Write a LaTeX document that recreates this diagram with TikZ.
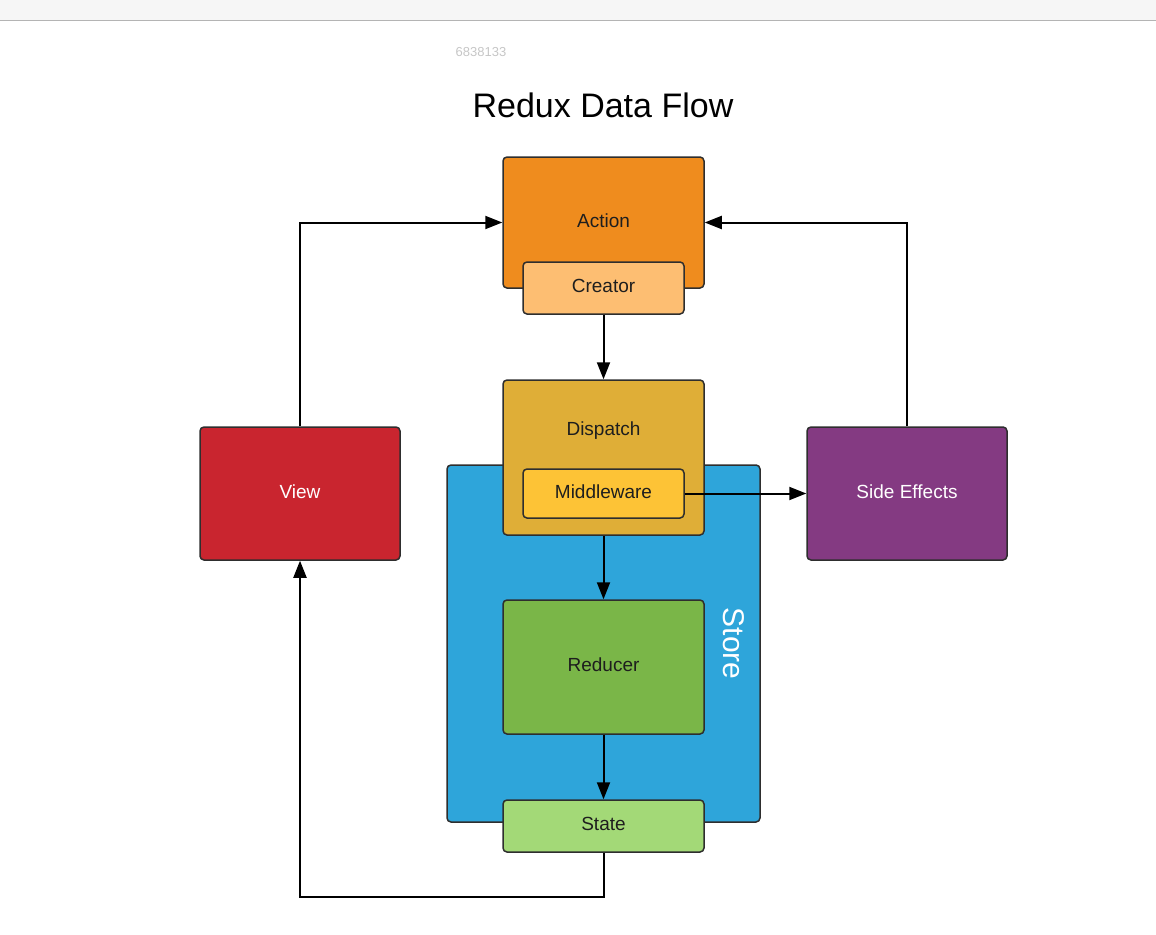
\documentclass[tikz,border=0pt]{standalone}
\usepackage{fontspec}
\setmainfont{Liberation Sans}
\usetikzlibrary{arrows.meta,positioning}
\definecolor{topgray}{HTML}{F6F6F6}
\definecolor{topline}{HTML}{B4B4B4}
\definecolor{boxline}{HTML}{2E2E2E}
\definecolor{textdark}{HTML}{1E1E1E}
\definecolor{actionorange}{HTML}{EF8C1E}
\definecolor{creatorpeach}{HTML}{FDBE72}
\definecolor{dispatchgold}{HTML}{DFAE37}
\definecolor{middlewareyellow}{HTML}{FDC336}
\definecolor{storeblue}{HTML}{2EA5DA}
\definecolor{reducergreen}{HTML}{7AB648}
\definecolor{stategreen}{HTML}{A3D977}
\definecolor{viewred}{HTML}{C9252F}
\definecolor{sidepurple}{HTML}{843A82}
\tikzstyle{block} = [rectangle, draw=boxline, line width=1.5pt, rounded corners=4pt,
    text=textdark, font=\fontsize{19}{23}\selectfont, inner sep=0pt,
    text height=14pt, text depth=5pt]
\tikzstyle{blocktext} = [text=textdark, font=\fontsize{19}{23}\selectfont,
    text height=14pt, text depth=5pt]

\begin{document}
\begin{tikzpicture}[x=1pt,y=-1pt,->,>={Triangle[length=17pt,width=13pt]},line width=2pt]
  \useasboundingbox (0,0) rectangle (1156,934);
  % browser strip
  \fill[topgray] (0,0) rectangle (1156,20);
  \draw[-,topline,line width=1.2pt] (0,20.5) -- (1156,20.5);
  \node[text=gray!45, font=\fontsize{13}{15}\selectfont] (docid) at (481,52) {6838133};
  \node[font=\fontsize{34}{40}\selectfont, text=black] (title) at (603,105) {Redux Data Flow};

  \node[block, fill=storeblue, minimum width=313pt, minimum height=357pt] (store) at (603.5,643.5) {};
  \node[rotate=-90, text=white, font=\fontsize{30}{34}\selectfont] (storetxt) at ([xshift=-27pt]store.east) {Store};
  \node[block, fill=dispatchgold, minimum width=201pt, minimum height=155pt] (dispatch) at (603.5,457.5) {};
  \node[blocktext] (dispatchtxt) at ([yshift=-52pt]dispatch.north) {Dispatch};
  \node[block, fill=middlewareyellow, minimum width=161pt, minimum height=49pt] (middleware) at (603.5,493.5) {Middleware};
  \node[block, fill=actionorange, minimum width=201pt, minimum height=131pt] (action) at (603.5,222.5) {Action};
  \node[block, fill=creatorpeach, minimum width=161pt, minimum height=52pt] (creator) at (603.5,288) {Creator};
  \node[block, fill=reducergreen, minimum width=201pt, minimum height=134pt] (reducer) at (603.5,667) {Reducer};
  \node[block, fill=stategreen, minimum width=201pt, minimum height=52pt] (state) at (603.5,826) {State};
  \node[block, fill=viewred, text=white, minimum width=200pt, minimum height=133pt] (view) at (300,493.5) {View};
  \node[block, fill=sidepurple, text=white, minimum width=200pt, minimum height=133pt] (sidefx) at (907,493.5) {Side Effects};

  \draw (creator) -- (dispatch);
  \draw (dispatch) -- (reducer);
  \draw (reducer) -- (state);
  \draw (middleware.east) -- (sidefx.west);
  \draw (view.north) |- (action.west);
  \draw (sidefx.north) |- (action.east);
  \draw (state.south) -- ++(0,44) -| (view.south);
\end{tikzpicture}
\end{document}
